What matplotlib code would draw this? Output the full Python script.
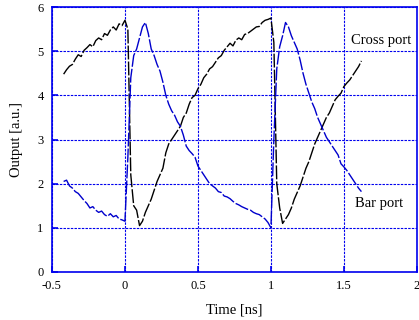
import numpy as np
import matplotlib
matplotlib.use("Agg")
import matplotlib.pyplot as plt

plt.rcParams['font.family'] = ['Liberation Serif', 'DejaVu Serif']

time_ns = np.linspace(-0.42, 1.62, 103)

cross_port = [
    4.48, 4.58, 4.66, 4.70, 4.82, 4.92, 4.88, 5.02, 5.08, 5.15, 5.10, 5.24, 5.30, 5.26,
    5.40, 5.36, 5.48, 5.55, 5.48, 5.62, 5.58, 5.70,
    5.50, 2.20, 1.50, 1.40, 1.05, 1.15, 1.35, 1.50, 1.65, 1.85, 2.05, 2.20, 2.35, 2.70,
    2.90, 3.00, 3.10, 3.20, 3.30, 3.50, 3.60, 3.80, 3.95, 4.00, 4.15, 4.25, 4.40, 4.48,
    4.60, 4.65, 4.75, 4.85, 4.90, 5.02, 5.10, 5.18, 5.12, 5.25, 5.30, 5.26, 5.38, 5.40,
    5.45, 5.50, 5.55, 5.56, 5.65, 5.70, 5.72, 5.75,
    5.20, 2.00, 1.45, 1.10, 1.20, 1.30, 1.45, 1.65, 1.80, 1.95, 2.15, 2.35, 2.50, 2.70,
    2.90, 3.05, 3.20, 3.35, 3.50, 3.60, 3.75, 3.90, 3.98, 4.05, 4.20, 4.28, 4.35, 4.45,
    4.55, 4.65, 4.78,
]

bar_port = [
    2.05, 2.08, 1.95, 1.90, 1.82, 1.78, 1.70, 1.62, 1.55, 1.45, 1.48, 1.40, 1.35, 1.38,
    1.30, 1.26, 1.32, 1.25, 1.28, 1.20, 1.18, 1.15,
    2.60, 4.40, 4.90, 5.05, 5.30, 5.55, 5.65, 5.40, 5.05, 4.90, 4.70, 4.55, 4.30, 4.00,
    3.80, 3.65, 3.55, 3.40, 3.30, 3.10, 2.85, 2.75, 2.68, 2.60, 2.40, 2.30, 2.20, 2.10,
    2.00, 1.95, 1.90, 1.82, 1.80, 1.72, 1.70, 1.66, 1.60, 1.55, 1.52, 1.48, 1.45, 1.42,
    1.40, 1.35, 1.32, 1.30, 1.25, 1.20, 1.12, 1.00,
    3.00, 4.60, 5.10, 5.35, 5.65, 5.55, 5.35, 5.20, 5.05, 4.80, 4.50, 4.25, 4.05, 3.85,
    3.70, 3.50, 3.35, 3.20, 3.05, 2.95, 2.85, 2.75, 2.65, 2.45, 2.38, 2.30, 2.20, 2.10,
    2.00, 1.90, 1.82,
]

x_ticks = [-0.5, 0, 0.5, 1, 1.5, 2]
x_tick_labels = ['-0.5', '0', '0.5', '1', '1.5', '2']
y_ticks = [0, 1, 2, 3, 4, 5, 6]

fig = plt.figure(figsize=(4.19, 3.20), dpi=100)
ax = fig.add_axes([0.124, 0.15, 0.871, 0.828])

ax.plot(time_ns, cross_port, color='black', lw=1.0, linestyle=(0, (10, 1.5)))
ax.plot(time_ns, bar_port, color='#0000cc', lw=1.0, linestyle=(0, (10, 1.5)))

ax.set_xlim(-0.5, 2)
ax.set_ylim(0, 6)
ax.set_xticks(x_ticks)
ax.set_xticklabels(x_tick_labels)
ax.set_yticks(y_ticks)
ax.tick_params(direction='in', length=4, width=1.2, color='#0000ee',
               labelsize=9, pad=6)
ax.grid(True, color='#0000ee', linestyle=(0, (2.2, 1.1)), lw=0.8)
for s in ax.spines.values():
    s.set_color('#0000ee')
    s.set_linewidth(1.2)

ax.set_xlabel('Time [ns]', fontsize=10.5, labelpad=8)
ax.set_ylabel('Output [a.u.]', fontsize=10.5, labelpad=10)

ax.text(1.753, 5.25, 'Cross port', fontsize=10.5, ha='center', va='center')
ax.text(1.74, 1.55, 'Bar port', fontsize=10.5, ha='center', va='center')

fig.savefig('out.png', dpi=100)
